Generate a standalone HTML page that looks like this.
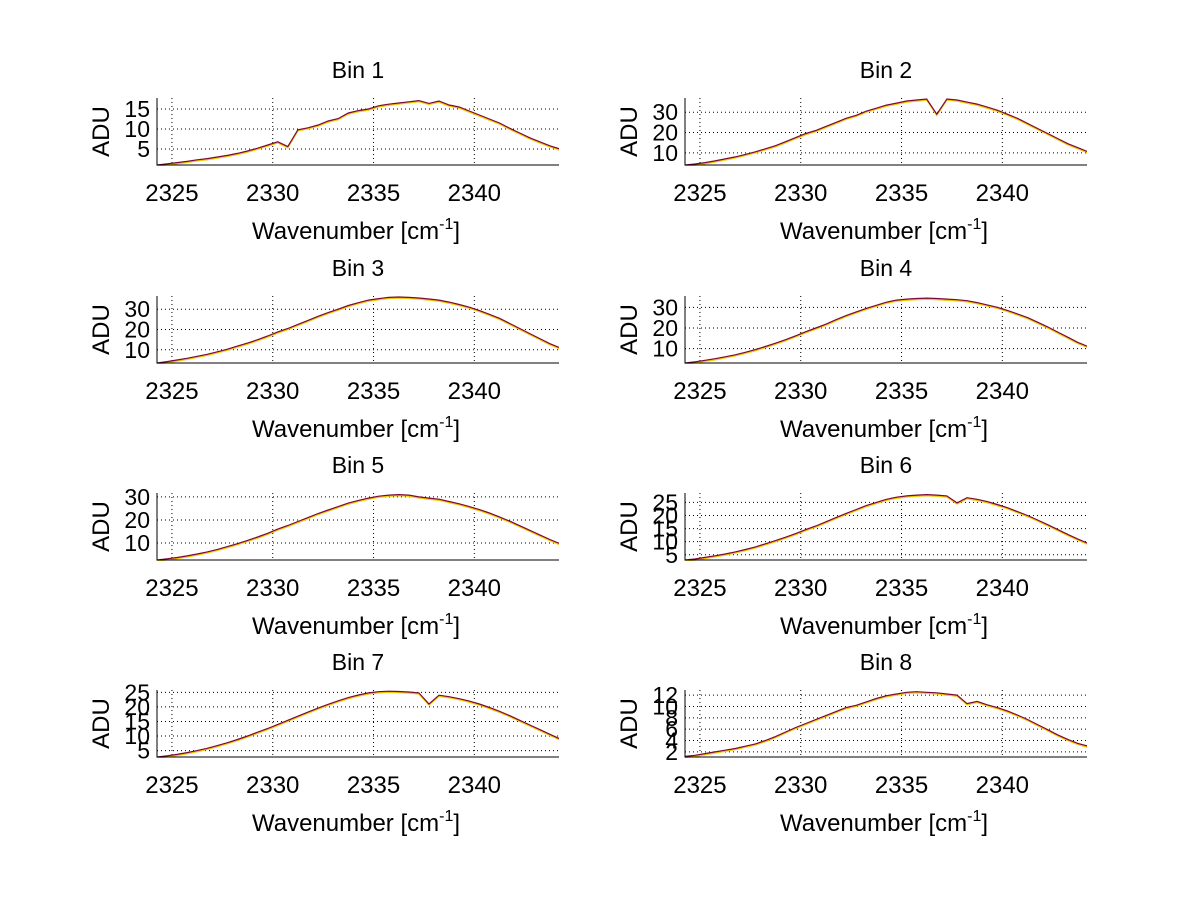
<!DOCTYPE html>
<html><head><meta charset="utf-8"><style>
html,body{margin:0;padding:0;background:#fff;}
svg{display:block;font-family:"Liberation Sans",sans-serif;}
</style></head><body>
<svg id="fig" width="1200" height="901" viewBox="0 0 1200 901" xmlns="http://www.w3.org/2000/svg">
<rect width="1200" height="901" fill="#fff"/>
</svg>
<script>
const wavenumbers = [2324.25,2324.75,2325.25,2325.75,2326.25,2326.75,2327.25,2327.75,2328.25,2328.75,2329.25,2329.75,2330.25,2330.75,2331.25,2331.75,2332.25,2332.75,2333.25,2333.75,2334.25,2334.75,2335.25,2335.75,2336.25,2336.75,2337.25,2337.75,2338.25,2338.75,2339.25,2339.75,2340.25,2340.75,2341.25,2341.75,2342.25,2342.75,2343.25,2343.75,2344.25];
const xTicks = [2325,2330,2335,2340];
const bin1 = [1.0,1.3,1.6,1.9,2.3,2.6,3.0,3.4,3.9,4.5,5.2,6.0,6.8,5.6,9.8,10.3,11.0,12.0,12.6,14.0,14.6,15.0,15.8,16.2,16.5,16.8,17.1,16.4,17.0,16.0,15.5,14.5,13.5,12.5,11.5,10.2,9.0,7.8,6.8,5.8,5.0];
const bin2 = [4,4.5,5.2,6,7,8,9.2,10.5,12,13.5,15.5,17.5,19.5,21,23,25,27,28.5,30.5,32,33.5,34.5,35.5,36,36.5,29,36.5,36,35,34,32.5,31,29,27,24.5,22,19.5,17,14.5,12.5,10.5];
const bin3 = [3.5,4.2,5,5.8,6.8,7.8,9,10.3,11.8,13.3,15,16.8,18.8,20.5,22.5,24.5,26.5,28.3,30,31.8,33.2,34.5,35.2,35.8,36,35.8,35.5,35,34.5,33.5,32.3,31,29.3,27.5,25.5,23,20.5,18,15.5,13,11];
const bin4 = [3,3.6,4.3,5.1,6,7,8.2,9.5,11,12.6,14.3,16.2,18.2,20,21.8,24,26,27.8,29.5,31,32.5,33.5,34,34.3,34.5,34.3,34,33.7,33.2,32.3,31.2,30,28.5,26.8,25,22.8,20.5,18,15.5,13,11];
const bin5 = [2.6,3.1,3.7,4.4,5.2,6.1,7.2,8.4,9.7,11.1,12.6,14.2,16,17.6,19.3,21,22.8,24.3,25.8,27.3,28.5,29.5,30.3,30.8,31,30.8,30,29.5,29,28,27,25.8,24.5,23,21.3,19.5,17.5,15.5,13.5,11.5,9.7];
const bin6 = [3,3.4,4,4.6,5.3,6.1,7,8,9.2,10.4,11.7,13.1,14.6,16,17.6,19.2,20.8,22.3,23.8,25,26.2,27,27.5,27.8,28,27.8,27.5,24.8,26.8,26.2,25.3,24.2,23,21.5,20,18.3,16.5,14.6,12.8,11,9.4];
const bin7 = [2.8,3.2,3.7,4.3,5,5.8,6.7,7.7,8.8,10,11.3,12.6,14,15.4,16.8,18.2,19.6,20.9,22.1,23.2,24.1,24.8,25.2,25.4,25.3,25.1,24.8,21,24,23.5,22.8,22,21,19.8,18.5,17,15.4,13.8,12.2,10.6,9];
const bin8 = [1.2,1.4,1.7,2,2.3,2.6,3,3.4,4,4.7,5.5,6.3,7,7.7,8.4,9.1,9.8,10.2,10.8,11.4,11.9,12.2,12.5,12.6,12.5,12.4,12.2,12,10.5,10.9,10.3,9.8,9.2,8.5,7.7,6.8,5.9,5,4.2,3.5,3];
const yTicks1 = [5,10,15];
const yTicks2 = [10,20,30];
const yTicks6 = [5,10,15,20,25];
const yTicks8 = [2,4,6,8,10,12];

const NS = "http://www.w3.org/2000/svg";
const svg = document.getElementById('fig');
function mk(tag, attrs, parent){const e=document.createElementNS(NS,tag);for(const k in attrs)e.setAttribute(k,attrs[k]);(parent||svg).appendChild(e);return e;}

const panels = [
 {title:"Bin 1",data:bin1,ticks:yTicks1,ymin:1,ymax:17.75,col:0,row:0},
 {title:"Bin 2",data:bin2,ticks:yTicks2,ymin:4,ymax:37,col:1,row:0},
 {title:"Bin 3",data:bin3,ticks:yTicks2,ymin:3.5,ymax:36.5,col:0,row:1},
 {title:"Bin 4",data:bin4,ticks:yTicks2,ymin:3,ymax:35.5,col:1,row:1},
 {title:"Bin 5",data:bin5,ticks:yTicks2,ymin:2.6,ymax:31.7,col:0,row:2},
 {title:"Bin 6",data:bin6,ticks:yTicks6,ymin:3,ymax:28.6,col:1,row:2},
 {title:"Bin 7",data:bin7,ticks:yTicks6,ymin:2.8,ymax:25.8,col:0,row:3},
 {title:"Bin 8",data:bin8,ticks:yTicks8,ymin:1.1,ymax:12.9,col:1,row:3}
];
const XMIN=2324.26, XMAX=2344.2;
const lefts=[157,685], W=402, tops=[98,296,493,690], H=67;

panels.forEach((p,i)=>{
  const L=lefts[p.col], T=tops[p.row], B=T+H, R=L+W;
  const g=mk('g',{});
  
  
  const sx=v=>L+(v-XMIN)/(XMAX-XMIN)*W;
  const sy=v=>B-(v-p.ymin)/(p.ymax-p.ymin)*H;
  const clipId='c'+i;
  const cp=mk('clipPath',{id:clipId},g);mk('rect',{x:L,y:T,width:W,height:H},cp);
  xTicks.forEach(t=>{const l=mk('line',{x1:sx(t),x2:sx(t),y1:T,y2:B,stroke:'#000','stroke-width':1,'stroke-dasharray':'1,3'},g);
    
    const tk=mk('text',{x:sx(t),y:T+103,'font-size':24,'text-anchor':'middle',fill:'#000'},g);tk.textContent=t;
    });
  p.ticks.forEach(t=>{const y=sy(t);const l=mk('line',{x1:L,x2:R,y1:y,y2:y,stroke:'#000','stroke-width':1,'stroke-dasharray':'1,3'},g);
    
    const tk=mk('text',{x:L-7,y:y+8,'font-size':23,'text-anchor':'end',fill:'#000'},g);tk.textContent=t;
    });
  const pts=p.data.map((v,k)=>sx(wavenumbers[k]).toFixed(1)+','+sy(v).toFixed(1)).join(' ');
  const under=mk('polyline',{points:pts,fill:'none',stroke:'#f5c400','stroke-width':1.5,transform:'translate(0,1)','clip-path':'url(#'+clipId+')'},g);
  
  const main=mk('polyline',{points:pts,fill:'none',stroke:'#7a0a3a','stroke-width':1.2,'clip-path':'url(#'+clipId+')'},g);
  
  const ax=mk('path',{d:`M${L},${T} V${B} H${R}`,fill:'none',stroke:'#000','stroke-width':1},g);
  
  const ti=mk('text',{x:L+W/2,y:T-20,'font-size':23,'text-anchor':'middle',fill:'#000'},g);ti.textContent=p.title;
  
  const yl=mk('text',{x:0,y:0,'font-size':24,'text-anchor':'middle',fill:'#000',transform:`translate(${L-48},${T+H/2}) rotate(-90)`},g);yl.textContent='ADU';
  
  const xl=mk('text',{x:L+W/2-2,y:T+141,'font-size':24,'text-anchor':'middle',fill:'#000'},g);
  
  xl.appendChild(document.createTextNode('Wavenumber [cm'));
  const sup=mk('tspan',{dy:-10,'font-size':16},xl);sup.textContent='-1';
  const cl=mk('tspan',{dy:10},xl);cl.textContent=']';
});
</script>
</body></html>
